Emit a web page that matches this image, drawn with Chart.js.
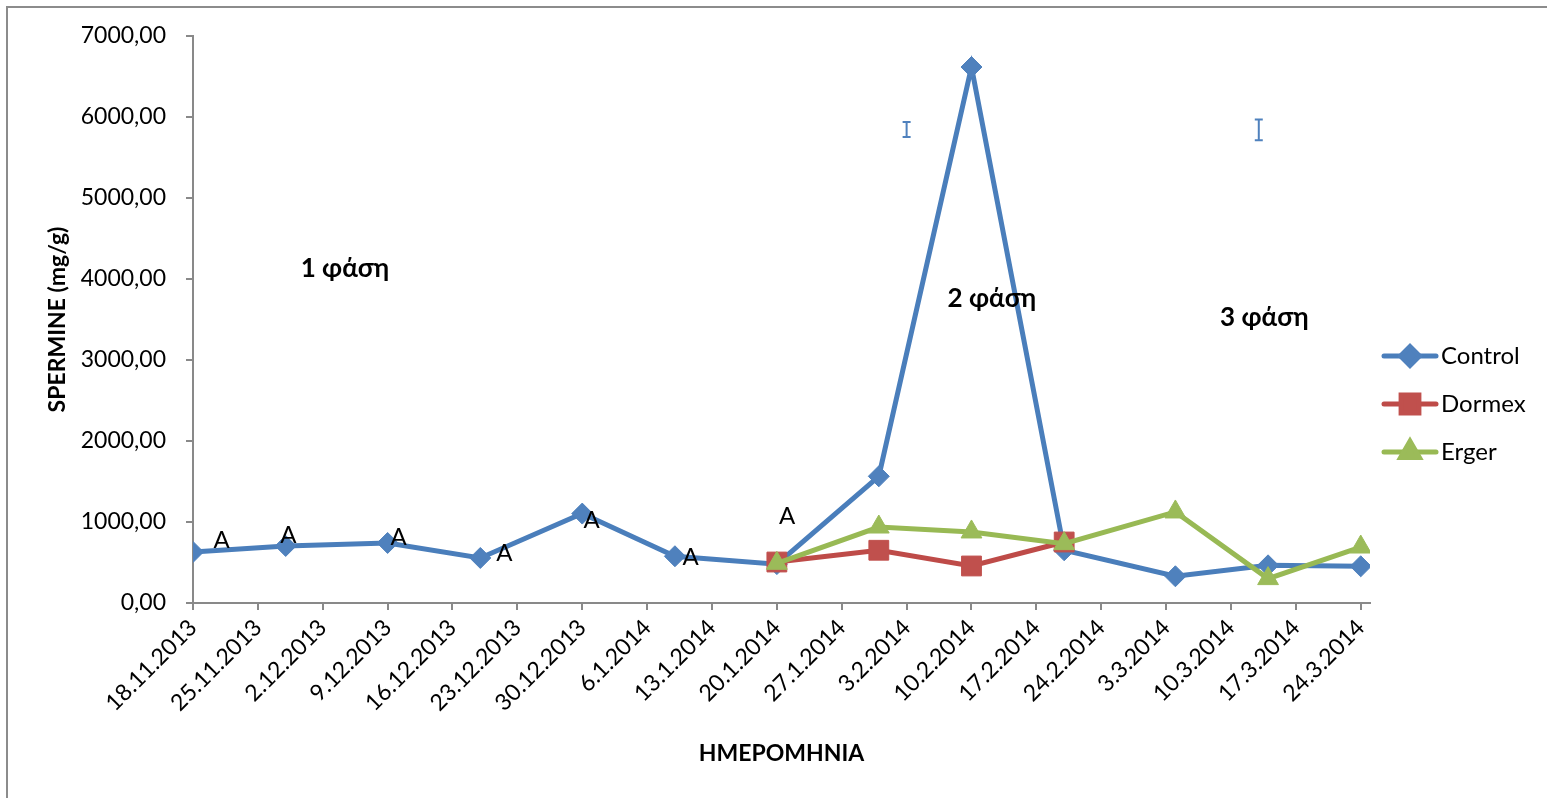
<!DOCTYPE html>
<html>
<head>
<meta charset="utf-8">
<script src="https://cdn.jsdelivr.net/npm/chart.js@4.4.0/dist/chart.umd.min.js"></script>
<style>
  html, body { margin: 0; padding: 0; background: #fff; }
  #wrap { position: relative; width: 1547px; height: 798px; }
</style>
</head>
<body>
<div id="wrap"><canvas id="myLineChart" width="1547" height="798"></canvas></div>
<script>
const startDate = "18.11.2013";

const tickLabels = [
  "18.11.2013", "25.11.2013", "2.12.2013", "9.12.2013", "16.12.2013", "23.12.2013",
  "30.12.2013", "6.1.2014", "13.1.2014", "20.1.2014", "27.1.2014", "3.2.2014",
  "10.2.2014", "17.2.2014", "24.2.2014", "3.3.2014", "10.3.2014", "17.3.2014", "24.3.2014"
];
const yTicks = [0, 1000, 2000, 3000, 4000, 5000, 6000, 7000];

const controlDates = [
  "18.11.2013", "28.11.2013", "9.12.2013", "19.12.2013", "30.12.2013", "9.1.2014",
  "20.1.2014", "31.1.2014", "10.2.2014", "20.2.2014", "4.3.2014", "14.3.2014", "24.3.2014"
];
const controlValues = [630, 704, 741, 556, 1104, 577, 480, 1564, 6617, 651, 330, 465, 453];

const dormexDates = ["20.1.2014", "31.1.2014", "10.2.2014", "20.2.2014"];
const dormexValues = [506, 651, 457, 753];

const ergerDates = ["20.1.2014", "31.1.2014", "10.2.2014", "20.2.2014", "4.3.2014", "14.3.2014", "24.3.2014"];
const ergerValues = [490, 938, 877, 733, 1124, 301, 691];

// the two stray error bars
const errorDates = ["3.2.2014", "13.3.2014"];
const errorLow = [5753, 5712];
const errorHigh = [5938, 5968];

// significance letters (day offset, value)
const letterDays = [3.1, 10.3, 22.2, 33.6, 43.0, 53.7, 64.1];
const letterValues = [774, 836, 811, 614, 1021, 564, 1070];

const phaseLabels = ["1 φάση", "2 φάση", "3 φάση"];
const phaseDays = [16.4, 86.2, 115.6];
const phaseValues = [4130, 3762, 3528];

const FONT = "Lato, 'Open Sans', 'Noto Sans', sans-serif";
const AXIS_GREY = "#898989";

function toDay(s) {
  const [d, m, y] = s.split(".").map(Number);
  const [d0, m0, y0] = startDate.split(".").map(Number);
  return Math.round((Date.UTC(y, m - 1, d) - Date.UTC(y0, m0 - 1, d0)) / 86400000);
}

function points(dates, values) {
  return dates.map((d, i) => ({ x: toDay(d), y: values[i] }));
}

const series = [
  { label: "Control", dates: controlDates, values: controlValues, line: "#4A7EBB", fill: "#4F81BD", style: "rectRot", radius: 10.5, order: 3 },
  { label: "Dormex", dates: dormexDates, values: dormexValues, line: "#BE4B48", fill: "#C0504D", style: "rect", radius: 14, order: 2 },
  { label: "Erger", dates: ergerDates, values: ergerValues, line: "#98B954", fill: "#9BBB59", style: "triangle", radius: 12, order: 1 }
];

// extra drawing: frame, error bars, letters, phase labels, legend
const decorPlugin = {
  id: "decor",
  afterDatasetsDraw(chart) {
    const ctx = chart.ctx;
    const x = chart.scales.x;
    const y = chart.scales.y;
    ctx.save();

    // error bars
    ctx.strokeStyle = "#4F81BD";
    ctx.lineWidth = 2;
    errorDates.forEach((d, i) => {
      const px = x.getPixelForValue(toDay(d));
      const lo = y.getPixelForValue(errorLow[i]);
      const hi = y.getPixelForValue(errorHigh[i]);
      ctx.beginPath();
      ctx.moveTo(px, lo); ctx.lineTo(px, hi);
      ctx.moveTo(px - 4, lo); ctx.lineTo(px + 4, lo);
      ctx.moveTo(px - 4, hi); ctx.lineTo(px + 4, hi);
      ctx.stroke();
    });

    ctx.fillStyle = "#000";
    ctx.textAlign = "center";
    ctx.textBaseline = "middle";
    ctx.font = "24px " + FONT;
    letterDays.forEach((d, i) => {
      ctx.fillText("A", x.getPixelForValue(d), y.getPixelForValue(letterValues[i]));
    });

    ctx.font = "bold 26px " + FONT;
    phaseLabels.forEach((t, i) => {
      ctx.fillText(t, x.getPixelForValue(phaseDays[i]), y.getPixelForValue(phaseValues[i]));
    });

    // legend
    ctx.font = "24px " + FONT;
    ctx.textAlign = "left";
    series.forEach((s, i) => {
      const ly = 356 + i * 48;
      ctx.strokeStyle = s.line;
      ctx.lineWidth = 5;
      ctx.lineCap = "round";
      ctx.beginPath();
      ctx.moveTo(1384, ly); ctx.lineTo(1436, ly);
      ctx.stroke();
      ctx.fillStyle = s.fill;
      ctx.strokeStyle = s.fill;
      Chart.helpers.drawPoint(ctx, { pointStyle: s.style, radius: s.radius * 0.9, rotation: 0, borderWidth: 1 }, 1410, ly);
      ctx.fillStyle = "#000";
      ctx.fillText(s.label, 1441, ly);
    });

    // outer frame (left and top only)
    ctx.strokeStyle = "#8c8c8c";
    ctx.lineWidth = 2;
    ctx.beginPath();
    ctx.moveTo(7, 798); ctx.lineTo(7, 7); ctx.lineTo(1547, 7);
    ctx.stroke();
    ctx.restore();
  }
};

function createLineChart() {
  const ctx = document.getElementById("myLineChart").getContext("2d");

  new Chart(ctx, {
    type: "line",
    data: {
      datasets: series.map((s) => ({
        label: s.label,
        data: points(s.dates, s.values),
        borderColor: s.line,
        backgroundColor: s.fill,
        borderWidth: 5,
        tension: 0,
        pointStyle: s.style,
        pointRadius: s.radius,
        pointBackgroundColor: s.fill,
        pointBorderColor: s.fill,
        pointBorderWidth: 1,
        order: s.order,
      })),
    },
    options: {
      responsive: false,
      animation: false,
      devicePixelRatio: 1,
      layout: { padding: { top: 36, right: 177, left: 0, bottom: 0 } },
      plugins: {
        legend: { display: false },
        tooltip: { enabled: false },
      },
      scales: {
        x: {
          type: "linear",
          min: 0,
          max: 127,
          afterBuildTicks: (scale) => {
            scale.ticks = tickLabels.map((t) => ({ value: toDay(t) }));
          },
          afterFit: (scale) => { scale.height = 195; },
          ticks: {
            autoSkip: false,
            minRotation: 45,
            maxRotation: 45,
            padding: 4,
            color: "#000",
            font: { family: FONT, size: 23 },
            callback: (v) => {
              const i = tickLabels.findIndex((t) => toDay(t) === v);
              return i >= 0 ? tickLabels[i] : "";
            },
          },
          grid: { drawOnChartArea: false, tickLength: 7, color: AXIS_GREY, lineWidth: 2 },
          border: { color: AXIS_GREY, width: 2 },
          title: {
            display: true,
            text: "ΗΜΕΡΟΜΗΝΙΑ",
            color: "#000",
            font: { family: FONT, size: 23, weight: "bold" },
            padding: { top: 0, bottom: 31 },
          },
        },
        y: {
          min: 0,
          max: 7000,
          afterBuildTicks: (scale) => {
            scale.ticks = yTicks.map((v) => ({ value: v }));
          },
          afterFit: (scale) => { scale.width = 193; },
          ticks: {
            padding: 20,
            color: "#000",
            font: { family: FONT, size: 23 },
            callback: (v) => v.toFixed(2).replace(".", ","),
          },
          grid: { drawOnChartArea: false, tickLength: 7, color: AXIS_GREY, lineWidth: 2 },
          border: { color: AXIS_GREY, width: 2 },
          title: {
            display: true,
            text: "SPERMINE (mg/g)",
            color: "#000",
            font: { family: FONT, size: 23, weight: "bold" },
            padding: { top: 44, bottom: 0 },
          },
        },
      },
    },
    plugins: [decorPlugin],
  });
}

document.addEventListener("DOMContentLoaded", function () {
  createLineChart();
});
</script>
</body>
</html>
